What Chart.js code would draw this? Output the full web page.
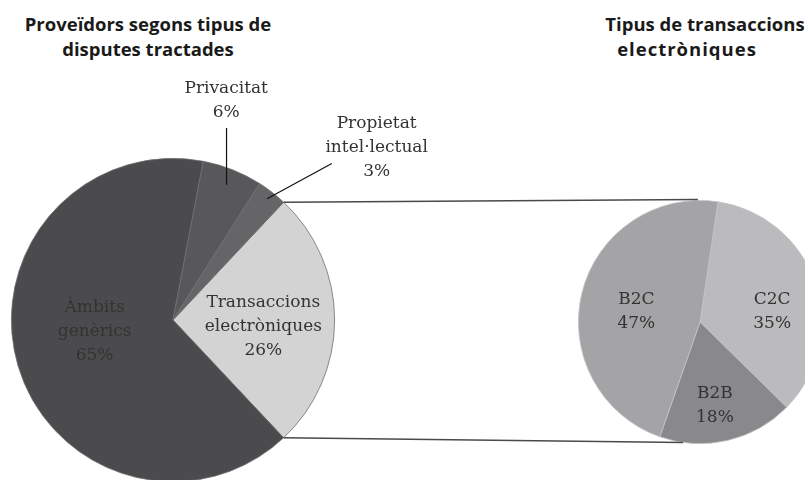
<!DOCTYPE html>
<html>
<head>
<meta charset="utf-8">
<script src="https://cdn.jsdelivr.net/npm/chart.js@4"></script>
<style>
  html, body { margin: 0; padding: 0; width: 805px; height: 480px; overflow: hidden; background: #fff; }
  canvas { position: absolute; left: 0; top: 0; }
  .title { position: absolute; font-family: "Open Sans", Lato, sans-serif; font-weight: bold; font-size: 18.5px;
           line-height: 25px; color: #1a1a1a; text-align: center; white-space: nowrap; width: 300px; }
</style>
</head>
<body>
<div class="title" style="left:-2px;top:11px;">Proveïdors segons tipus de<br>disputes tractades</div>
<div class="title" style="left:555px;top:11px;">Tipus de transaccions</div>
<div class="title" style="left:537px;top:36px;letter-spacing:1px;">electròniques</div>
<canvas id="mainPie" width="840" height="490"></canvas>
<canvas id="subPie" width="840" height="490"></canvas>
<script>
// pie esquerre
const mainLabels = [["Transaccions", "electròniques"], ["Àmbits", "genèrics"], ["Privacitat"], ["Propietat", "intel·lectual"]];
const mainValues = [26, 65, 6, 3];
const mainColors = ["#d3d3d3", "#4b4b4d", "#58585a", "#656567"];

// pie dret (detall de transaccions)
const subLabels = [["C2C"], ["B2B"], ["B2C"]];
const subValues = [35, 18, 47];
const subColors = ["#bbbbbd", "#89898c", "#a4a4a6"];

// on va cada etiqueta: distància (fracció del radi) i desviació d'angle en graus
const mainPlace = [
  { dist: 0.56, shift: 4 },
  { dist: 0.49, shift: 8 },
  { dist: 1.4, shift: -8, leader: { from: 0.9, up: 128 } },
  { dist: 1.65, shift: 12, leader: { from: 0.95, to: [1.38, -44.6] } },
];
const subPlace = [
  { dist: 0.6, shift: 10 },
  { dist: 0.7, shift: 3 },
  { dist: 0.53, shift: -5 },
];

const FONT = '17px "DejaVu Serif", serif';
const LINE_H = 24;

function pct(v) { return v + "%"; }

function makeLabelPlugin(labels, values, place) {
  return {
    id: "sliceLabels",
    afterDatasetsDraw(chart) {
      const c = chart.ctx;
      const arcs = chart.getDatasetMeta(0).data;
      c.save();
      c.font = FONT;
      c.fillStyle = "#333";
      c.textAlign = "center";
      c.textBaseline = "middle";
      arcs.forEach((arc, i) => {
        const p = place[i];
        const r = arc.outerRadius;
        const mid = (arc.startAngle + arc.endAngle) / 2;
        const a = mid + (p.shift * Math.PI) / 180;
        const lx = arc.x + Math.cos(a) * r * p.dist;
        const ly = arc.y + Math.sin(a) * r * p.dist;
        const lines = labels[i].concat([pct(values[i])]);
        const y0 = ly - ((lines.length - 1) * LINE_H) / 2;
        lines.forEach((t, k) => c.fillText(t, lx, y0 + k * LINE_H));

        if (p.leader) {
          const sx = arc.x + Math.cos(mid) * r * p.leader.from;
          const sy = arc.y + Math.sin(mid) * r * p.leader.from;
          let ex, ey;
          if (p.leader.up) {
            ex = sx; ey = p.leader.up;
          } else {
            const ta = (p.leader.to[1] * Math.PI) / 180;
            ex = arc.x + Math.cos(ta) * r * p.leader.to[0];
            ey = arc.y + Math.sin(ta) * r * p.leader.to[0];
          }
          c.strokeStyle = "#111";
          c.lineWidth = 1.2;
          c.beginPath();
          c.moveTo(sx, sy);
          c.lineTo(ex, ey);
          c.stroke();
        }
      });
      c.restore();
    },
  };
}

function pieConfig(labels, values, colors, place, padding, rotation, border) {
  return {
    type: "pie",
    data: {
      labels: labels.map((l) => l.join(" ")),
      datasets: [{ data: values, backgroundColor: colors, borderColor: border, borderWidth: 0.8 }],
    },
    options: {
      responsive: false,
      animation: false,
      rotation: rotation,
      layout: { padding: padding },
      plugins: { legend: { display: false }, tooltip: { enabled: false }, title: { display: false } },
    },
    plugins: [makeLabelPlugin(labels, values, place)],
  };
}

const mainChart = new Chart(
  document.getElementById("mainPie"),
  pieConfig(mainLabels, mainValues, mainColors, mainPlace,
    { left: 11, top: 158, right: 505, bottom: 8 }, 43.2, "#6e6e70")
);

// línies que uneixen la porció de transaccions amb el pie dret
const connector = {
  id: "connector",
  afterDraw(chart) {
    const big = mainChart.getDatasetMeta(0).data[0];
    const small = chart.getDatasetMeta(0).data[0];
    const c = chart.ctx;
    const r = big.outerRadius;
    const p1 = [big.x + Math.cos(big.startAngle) * r, big.y + Math.sin(big.startAngle) * r];
    const p2 = [big.x + Math.cos(big.endAngle) * r, big.y + Math.sin(big.endAngle) * r];
    const sr = small.outerRadius;
    const t1 = (-91 * Math.PI) / 180, t2 = (98 * Math.PI) / 180;
    const q1 = [small.x + Math.cos(t1) * sr, small.y + Math.sin(t1) * sr - 1];
    const q2 = [small.x + Math.cos(t2) * sr, small.y + Math.sin(t2) * sr];
    c.save();
    c.strokeStyle = "#4a4a4a";
    c.lineWidth = 1.5;
    c.beginPath();
    c.moveTo(p1[0], p1[1]); c.lineTo(q1[0], q1[1]);
    c.moveTo(p2[0], p2[1]); c.lineTo(q2[0], q2[1]);
    c.stroke();
    c.restore();
  },
};

const subCfg = pieConfig(subLabels, subValues, subColors, subPlace,
  { left: 578, top: 200, right: 18, bottom: 46 }, 8.5, "#c4c4c6");
subCfg.plugins.push(connector);
const subChart = new Chart(document.getElementById("subPie"), subCfg);
</script>
</body>
</html>
